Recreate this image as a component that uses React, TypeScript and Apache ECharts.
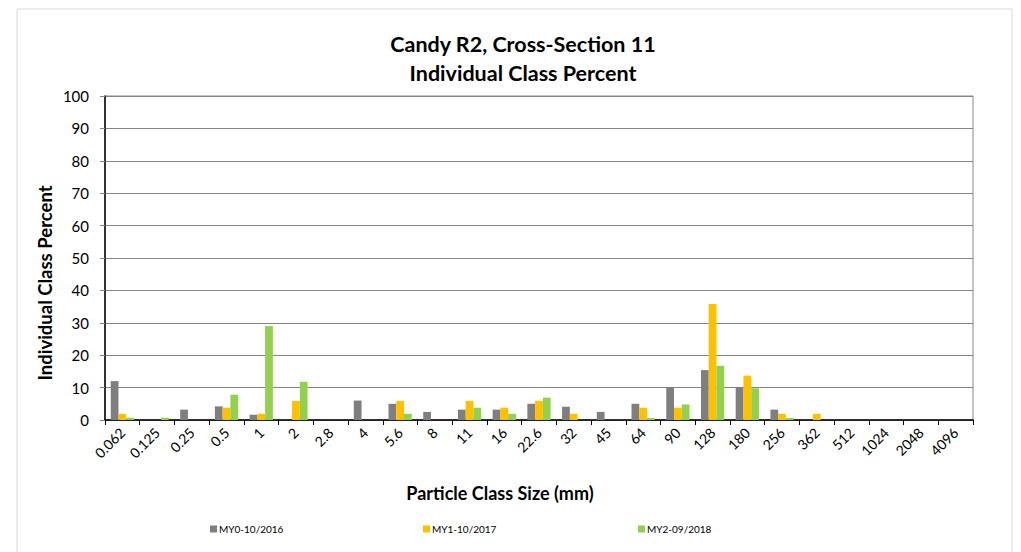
import React, { useEffect, useRef } from "react";
import * as echarts from "echarts";

const categories = ["0.062", "0.125", "0.25", "0.5", "1", "2", "2.8", "4", "5.6", "8", "11", "16", "22.6", "32", "45", "64", "90", "128", "180", "256", "362", "512", "1024", "2048", "4096"];
const seriesNames = ["MY0-10/2016", "MY1-10/2017", "MY2-09/2018"];
const my0 = [12.0, 0, 3.2, 4.2, 1.6, 0, 0, 6.0, 5.0, 2.5, 3.2, 3.2, 5.0, 4.1, 2.5, 5.0, 10.2, 15.4, 10.2, 3.2, 0, 0, 0, 0, 0];
const my1 = [1.9, 0, 0, 3.8, 1.9, 5.9, 0, 0, 5.9, 0, 5.9, 3.8, 5.9, 1.9, 0, 3.8, 3.8, 35.8, 13.7, 1.9, 1.9, 0, 0, 0, 0];
const my2 = [0.7, 0.7, 0, 7.8, 29.0, 11.8, 0, 0, 1.9, 0, 3.8, 1.9, 6.9, 0, 0, 0.6, 4.8, 16.7, 9.8, 0.6, 0, 0, 0, 0, 0];
const colors = ["#7F7F7F", "#FFC000", "#92D050"];
const legendLefts = [210, 423, 638];
const titleText = "Candy R2, Cross-Section 11\nIndividual Class Percent";
const xAxisTitle = "Particle Class Size (mm)";
const yAxisTitle = "Individual Class Percent";

const FONT = "Lato, 'Open Sans', sans-serif";

export default function App() {
  const ref = useRef<HTMLDivElement>(null);
  useEffect(() => {
    if (!ref.current) return;
    const chart = echarts.init(ref.current, null, { renderer: "svg" });
    const data = [my0, my1, my2];
    chart.setOption({
      animation: false,
      backgroundColor: "#ffffff",
      textStyle: { fontFamily: FONT },
      title: {
        text: titleText,
        left: 518,
        textAlign: "center",
        top: 24,
        textStyle: { fontFamily: FONT, fontSize: 21.5, fontWeight: "bold", color: "#000", lineHeight: 29 },
      },
      graphic: [
        {
          type: "rect",
          shape: { x: 17, y: 9, width: 995, height: 560 },
          style: { fill: "none", stroke: "#D9D9D9", lineWidth: 1 },
          silent: true,
          z: -1,
        },
        {
          type: "text",
          x: 45,
          y: 283,
          rotation: Math.PI / 2,
          style: {
            text: yAxisTitle,
            font: `bold 18.5px ${FONT}`,
            fill: "#000",
            align: "center",
            verticalAlign: "middle",
          },
        },
        {
          type: "text",
          x: 500,
          y: 493,
          style: {
            text: xAxisTitle,
            font: `bold 18px ${FONT}`,
            fill: "#000",
            align: "center",
            verticalAlign: "middle",
          },
        },
      ],
      legend: seriesNames.map((name, i) => ({
        data: [name],
        left: legendLefts[i],
        top: 524,
        padding: 0,
        itemWidth: 7,
        itemHeight: 7,
        icon: "rect",
        textStyle: { fontFamily: FONT, fontSize: 10, color: "#000", padding: [0, 0, 0, -3] },
      })),
      grid: {
        left: 105,
        right: 48,
        top: 96,
        bottom: 132,
        show: true,
        borderColor: "#868686",
        borderWidth: 1,
      },
      xAxis: {
        type: "category",
        data: categories,
        axisLine: { show: true, lineStyle: { color: "#000", width: 1.5 } },
        axisTick: { show: true, alignWithLabel: false, length: 5, lineStyle: { color: "#000" } },
        axisLabel: { rotate: 45, fontFamily: FONT, fontSize: 14, color: "#000", margin: 10, interval: 0 },
        splitLine: { show: false },
      },
      yAxis: {
        type: "value",
        min: 0,
        max: 100,
        interval: 10,
        axisLine: { show: true, lineStyle: { color: "#000", width: 1.5 } },
        axisTick: { show: true, length: 5, lineStyle: { color: "#868686" } },
        axisLabel: { fontFamily: FONT, fontSize: 15, color: "#000", margin: 16 },
        splitLine: { show: true, lineStyle: { color: "#868686", width: 1 } },
      },
      series: seriesNames.map((name, i) => ({
        name,
        type: "bar",
        data: data[i],
        barGap: "0%",
        barCategoryGap: "33%",
        itemStyle: { color: colors[i] },
      })),
    });
    return () => chart.dispose();
  }, []);
  return (
    <div
      ref={ref}
      style={{ position: "absolute", left: 0, top: 0, width: 1021, height: 552 }}
    />
  );
}
